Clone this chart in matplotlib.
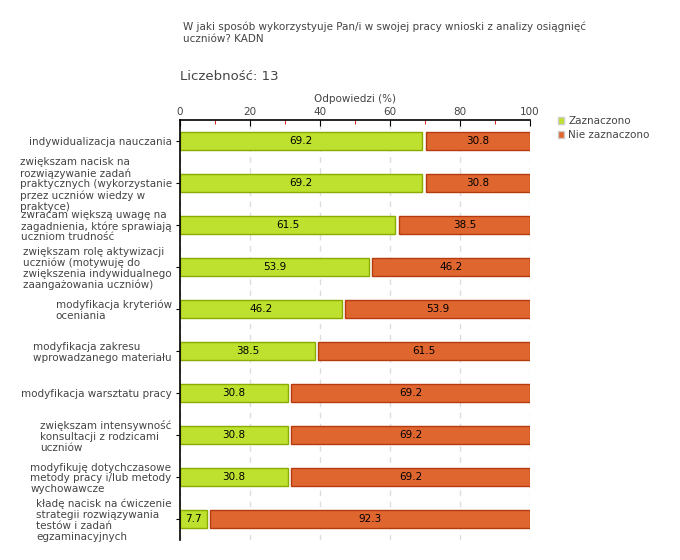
import numpy as np
import matplotlib
matplotlib.use("Agg")
import matplotlib.pyplot as plt
from matplotlib.ticker import MultipleLocator

labels = [
    "indywidualizacja nauczania",
    "zwiększam nacisk na\nrozwiązywanie zadań\npraktycznych (wykorzystanie\nprzez uczniów wiedzy w\npraktyce)",
    "zwracam większą uwagę na\nzagadnienia, które sprawiają\nuczniom trudność",
    "zwiększam rolę aktywizacji\nuczniów (motywuję do\nzwiększenia indywidualnego\nzaangażowania uczniów)",
    "modyfikacja kryteriów\noceniania",
    "modyfikacja zakresu\nwprowadzanego materiału",
    "modyfikacja warsztatu pracy",
    "zwiększam intensywność\nkonsultacji z rodzicami\nuczniów",
    "modyfikuję dotychczasowe\nmetody pracy i/lub metody\nwychowawcze",
    "kładę nacisk na ćwiczenie\nstrategii rozwiązywania\ntestów i zadań\negzaminacyjnych",
]
zaznaczono = [69.2, 69.2, 61.5, 53.9, 46.2, 38.5, 30.8, 30.8, 30.8, 7.7]
nie_zaznaczono = [30.8, 30.8, 38.5, 46.2, 53.9, 61.5, 69.2, 69.2, 69.2, 92.3]
series_names = ["Zaznaczono", "Nie zaznaczono"]

green, green_edge = "#bee12f", "#8aab00"
orange, orange_edge = "#e06630", "#b53a0e"
txt = "#444444"
fs = 7.5

fig = plt.figure(figsize=(6.8, 5.6), dpi=100)
ax = fig.add_axes([180/680, 20/560, 350/680, 420/560])

y = np.arange(len(labels))
gap = 1.0
ax.barh(y, zaznaczono, height=0.45, color=green, edgecolor=green_edge, linewidth=1)
ax.barh(y, np.array(nie_zaznaczono) - gap, left=np.array(zaznaczono) + gap, height=0.45,
        color=orange, edgecolor=orange_edge, linewidth=1)

for i in range(len(labels)):
    ax.text(zaznaczono[i] / 2, i, f"{zaznaczono[i]:.1f}", ha="center", va="center", fontsize=fs, color="black")
    ax.text(zaznaczono[i] + gap + (nie_zaznaczono[i] - gap) / 2, i, f"{nie_zaznaczono[i]:.1f}",
            ha="center", va="center", fontsize=fs, color="black")

ax.set_xlim(0, 100)
ax.set_ylim(len(labels) - 0.5, -0.5)
ax.xaxis.tick_top()
ax.xaxis.set_label_position("top")
ax.xaxis.set_major_locator(MultipleLocator(20))
ax.xaxis.set_minor_locator(MultipleLocator(10))
ax.tick_params(axis="x", which="major", direction="in", length=4, color="black", labelsize=fs, labelcolor=txt, pad=2)
ax.tick_params(axis="x", which="minor", direction="in", length=3, color="#dd0000")
ax.set_xlabel("Odpowiedzi (%)", fontsize=fs, color=txt, labelpad=4)

ax.set_yticks(y)
ax.set_yticklabels(labels, fontsize=fs, color=txt, linespacing=1.1)
for t in ax.get_yticklabels():
    t.set_multialignment("left")
ax.tick_params(axis="y", length=3, pad=3)

ax.grid(axis="x", which="major", color="#dddddd", linestyle=(0, (4, 4)), linewidth=1)
ax.set_axisbelow(True)
for s in ["right", "bottom"]:
    ax.spines[s].set_visible(False)
ax.spines["top"].set_linewidth(1.2)
ax.spines["left"].set_linewidth(1.2)

fig.text(183/680, 1 - 33/560, "W jaki sposób wykorzystyuje Pan/i w swojej pracy wnioski z analizy osiągnięć\nuczniów? KADN",
         fontsize=fs, color=txt, va="center", ha="left", linespacing=1.3)
fig.text(180/680, 1 - 76/560, "Liczebność: 13", fontsize=9.5, color=txt, va="center", ha="left")

handles = [plt.Rectangle((0, 0), 1, 1, facecolor=green, edgecolor="#cccccc"),
           plt.Rectangle((0, 0), 1, 1, facecolor=orange, edgecolor="#cccccc")]
fig.legend(handles, series_names, loc="upper left", bbox_to_anchor=(558/680, 1 - 116/560), frameon=False,
           fontsize=fs, handlelength=0.6, handleheight=0.6, handletextpad=0.4, labelspacing=0.4,
           labelcolor=txt, borderaxespad=0, borderpad=0)

fig.savefig("out.png", dpi=100)
